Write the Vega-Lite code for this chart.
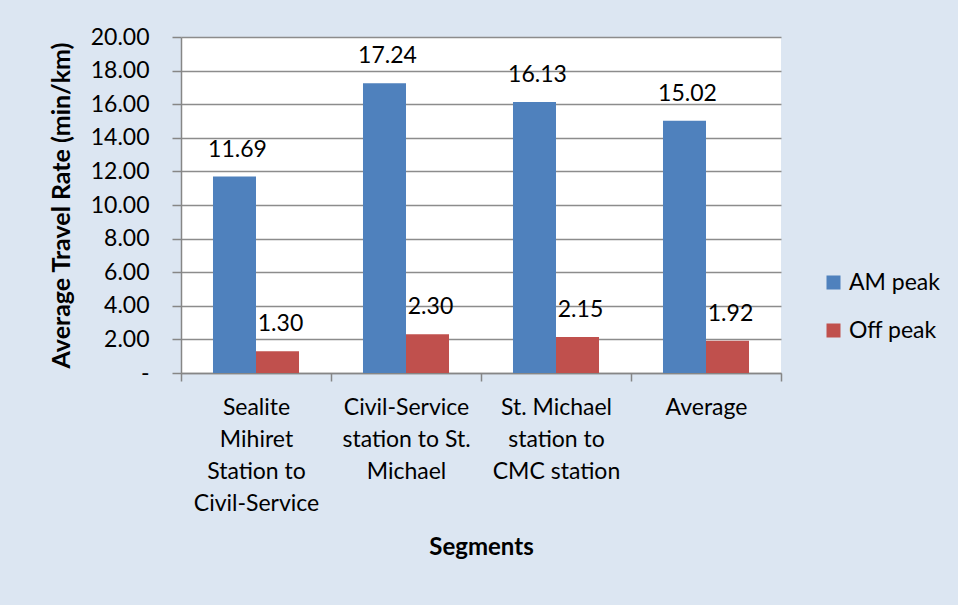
{
  "$schema": "https://vega.github.io/schema/vega-lite/v6.json",
  "width": 600,
  "height": 336,
  "autosize": {"type": "none"},
  "padding": {"left": 181, "top": 37, "right": 177, "bottom": 232},
  "background": "#dce6f2",
  "config": {
    "view": {"stroke": null, "fill": "white"},
    "font": "Lato",
    "axis": {"labelFont": "Lato", "titleFont": "Lato", "labelColor": "black", "titleColor": "black"}
  },
  "data": {
    "values": [
      {"segment": "Sealite|Mihiret|Station to|Civil-Service", "period": "AM peak", "value": 11.69},
      {"segment": "Sealite|Mihiret|Station to|Civil-Service", "period": "Off peak", "value": 1.30},
      {"segment": "Civil-Service|station to St.|Michael", "period": "AM peak", "value": 17.24},
      {"segment": "Civil-Service|station to St.|Michael", "period": "Off peak", "value": 2.30},
      {"segment": "St. Michael|station to|CMC station", "period": "AM peak", "value": 16.13},
      {"segment": "St. Michael|station to|CMC station", "period": "Off peak", "value": 2.15},
      {"segment": "Average", "period": "AM peak", "value": 15.02},
      {"segment": "Average", "period": "Off peak", "value": 1.92}
    ]
  },
  "encoding": {
    "x": {
      "field": "segment", "type": "nominal", "sort": null,
      "scale": {"paddingInner": 0, "paddingOuter": 0},
      "axis": {
        "title": "Segments", "titleFontSize": 24, "titleFontWeight": "bold", "titlePadding": 20,
        "labelAngle": 0, "labelFontSize": 23, "labelLineHeight": 32, "labelPadding": 15,
        "labelExpr": "split(datum.label, '|')", "labelBaseline": "top",
        "tickBand": "extent", "tickSize": 8, "tickColor": "#868686", "domainColor": "#868686",
        "domainWidth": 1.5, "tickWidth": 1.5
      }
    },
    "xOffset": {"field": "period", "type": "nominal", "scale": {"paddingInner": 0, "paddingOuter": 0.744}},
    "y": {
      "field": "value", "type": "quantitative",
      "scale": {"domain": [0, 20], "nice": false},
      "axis": {
        "title": "Average Travel Rate (min/km)", "titleFontSize": 25, "titleFontWeight": "bold", "titlePadding": 16,
        "values": [0, 2, 4, 6, 8, 10, 12, 14, 16, 18, 20],
        "labelExpr": "datum.value == 0 ? '-' : format(datum.value, '.2f')",
        "labelFontSize": 23, "labelPadding": 23, "tickSize": 9,
        "grid": true, "gridColor": "#8c8c8c", "gridWidth": 1.5,
        "tickColor": "#868686", "domainColor": "#868686", "domainWidth": 1.5, "tickWidth": 1.5
      }
    }
  },
  "layer": [
    {
      "mark": {"type": "bar"},
      "encoding": {
        "color": {
          "field": "period", "type": "nominal",
          "scale": {"domain": ["AM peak", "Off peak"], "range": ["#4f81bd", "#c0504d"]},
          "legend": {
            "title": null, "orient": "none", "legendX": 641, "legendY": 234,
            "symbolType": "square", "symbolSize": 196, "symbolStrokeWidth": 0,
            "labelFontSize": 23, "labelFont": "Lato", "labelColor": "black",
            "rowPadding": 24, "labelOffset": 4
          }
        }
      }
    },
    {
      "mark": {"type": "text", "dy": -20, "dx": 3, "baseline": "alphabetic", "fontSize": 23, "font": "Lato", "color": "black"},
      "encoding": {
        "text": {"field": "value", "type": "quantitative", "format": ".2f"}
      }
    }
  ]
}
